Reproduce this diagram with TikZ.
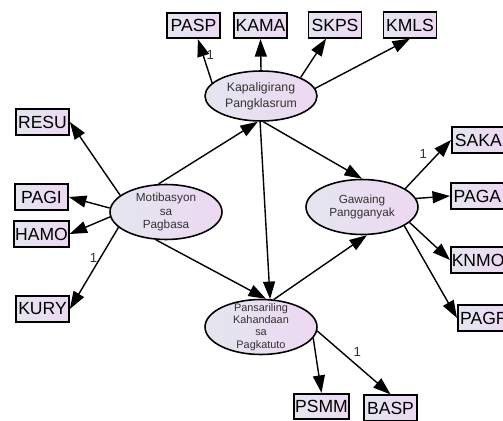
\documentclass[tikz,border=0pt]{standalone}
\usepackage{fontspec}
\setmainfont{Liberation Sans}
\usetikzlibrary{arrows.meta,shapes.geometric}
\definecolor{lavleft}{HTML}{E4E6EF}
\definecolor{lavright}{HTML}{EDD8F2}
\definecolor{labelgray}{HTML}{333333}
\tikzstyle{latent}=[ellipse,draw,line width=0.9pt,left color=lavleft,right color=lavright,minimum width=22.4mm,minimum height=11mm,inner sep=0pt]
\tikzstyle{observed}=[rectangle,draw,line width=1pt,left color=lavleft,right color=lavright,minimum width=10.6mm,minimum height=5.1mm,inner xsep=0.5pt,inner ysep=0pt,font=\fontsize{10}{12}\selectfont]
\tikzstyle{caption}=[align=center,text=labelgray,inner sep=0pt,font=\fontsize{6.7}{7.9}\selectfont]
\tikzstyle{edge}=[draw,line width=0.8pt,-{Triangle[length=3.5mm,width=2.4mm]}]
\tikzstyle{weight}=[font=\fontsize{7.5}{8}\selectfont,text=labelgray,inner sep=1.5pt]

\begin{document}
\begin{tikzpicture}[x=0.02cm,y=-0.02cm]
        \useasboundingbox (0,0) rectangle (503,421);
        % latent variables
        \node[latent,minimum height=10mm,label={[caption,font=\fontsize{7}{9}\selectfont]center:{Kapaligirang\\Pangklasrum}}] (kap) at (261,96) {};
        \node[latent,label={[caption]center:{Motibasyon\\sa\\Pagbasa}}] (mot) at (166,212) {};
        \node[latent,label={[caption]center:{Gawaing\\Pangganyak}}] (gaw) at (362,207) {};
        \node[latent,label={[caption,font=\fontsize{6.2}{7}\selectfont]center:{Pansariling\\Kahandaan\\sa\\Pagkatuto}}] (pans) at (261,327) {};
        % indicators
        \node[observed] (pasp) at (193.5,25.5) {PASP};
        \node[observed] (kama) at (260.5,25.5) {KAMA};
        \node[observed] (skps) at (335,25) {SKPS};
        \node[observed] (kmls) at (410,25) {KMLS};
        \node[observed] (resu) at (42.5,122) {RESU};
        \node[observed] (pagi) at (41.5,197) {PAGI};
        \node[observed] (hamo) at (41.5,234) {HAMO};
        \node[observed] (kury) at (42.5,309) {KURY};
        \node[observed,anchor=west] (saka) at (451,140) {SAKA};
        \node[observed,anchor=west] (paga) at (450,196) {PAGA};
        \node[observed,anchor=west] (knmo) at (450,260) {KNMO};
        \node[observed,anchor=west] (pagr) at (457,318) {PAGR};
        \node[observed] (psmm) at (321.5,406.5) {PSMM};
        \node[observed] (basp) at (390.5,408) {BASP};
        % structural paths
        \path[edge] (mot.105) -- (kap.-97);
        \path[edge] (mot.-110) -- (pans.80);
        \path[edge] (kap.-92) -- (pans.72);
        \path[edge] (kap.-85) -- (gaw.north);
        \path[edge] (pans.65) -- (gaw.-80);
        % measurement paths
        \path[edge] (kap.165) -- node[weight,pos=0.63,right] {1} (pasp);
        \path[edge] (kap.north) -- (kama.south);
        \path[edge] (kap.25) -- (skps);
        \path[edge] (kap.8) -- (kmls.south);
        \path[edge] (mot.160) -- (resu.east);
        \path[edge] (mot.176) -- (pagi.east);
        \path[edge] (mot.185) -- (hamo.east);
        \path[edge] (mot.198) -- node[weight,pos=0.37,left] {1} (kury.east);
        \path[edge] (gaw.23) -- node[weight,pos=0.55,above left] {1} (saka.west);
        \path[edge] (gaw.9) -- (paga.west);
        \path[edge] (gaw.-18) -- (knmo.west);
        \path[edge] (gaw.-24) -- (pagr.west);
        \path[edge] (pans.-12) -- (psmm.north);
        \path[edge] (pans.-4) -- node[weight,pos=0.45,above right] {1} (basp.north);
    \end{tikzpicture}
\end{document}
